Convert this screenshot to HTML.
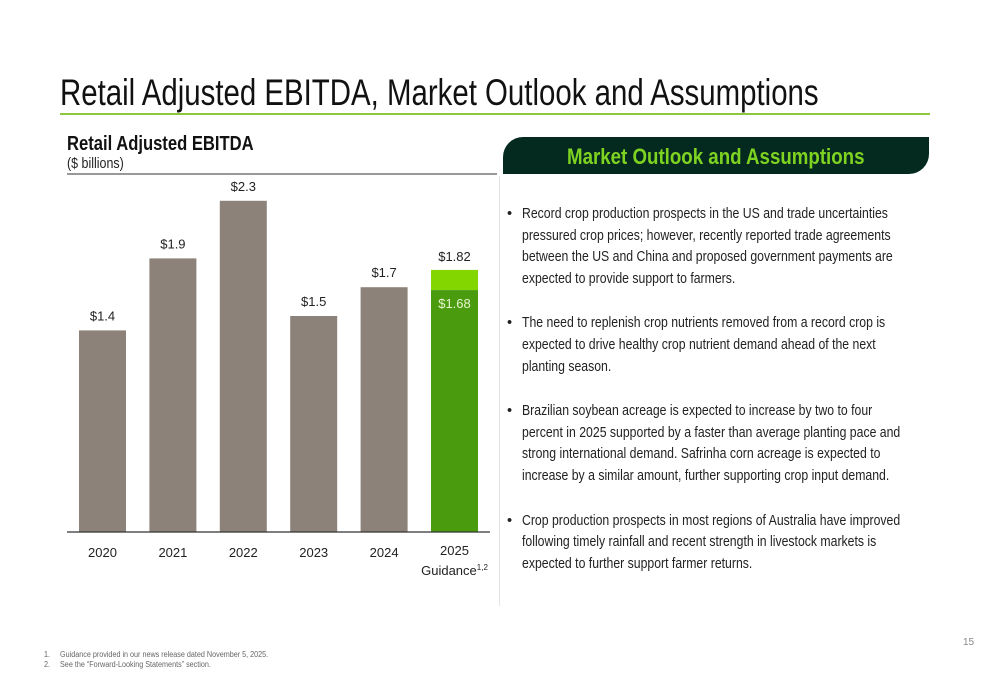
<!DOCTYPE html>
<html><head><meta charset="utf-8">
<style>
body{margin:0;width:1000px;height:685px;background:#fff;position:relative;overflow:hidden;font-family:"Liberation Sans",sans-serif;color:#222}
.abs{position:absolute}
.nar{transform-origin:0 0;white-space:nowrap}
#title{left:60px;top:72px;font-size:37px;color:#111;transform:scaleX(0.795)}
#rule{left:60px;top:113px;width:870px;height:2px;background:#8dc63f}
#ctitle{left:67px;top:133px;font-size:20px;font-weight:bold;color:#111;transform:scaleX(0.83)}
#csub{left:67px;top:155px;font-size:15px;color:#222;transform:scaleX(0.83)}
#box{left:503px;top:137px;width:426px;height:37px;background:#04291f;border-radius:20px 0 20px 0}
#boxt{left:567px;top:137px;line-height:39px;color:#7ed321;font-weight:bold;font-size:22px;transform:scaleX(0.85)}
#div{left:499px;top:176px;width:1px;height:430px;background:#e4e4e4}
ul{position:absolute;left:505px;top:204px;margin:0;padding:0;list-style:none;font-size:14.6px;line-height:21.6px;color:#222;white-space:nowrap}
li{position:relative;padding-left:17px;margin-bottom:23px}
li span{display:inline-block;transform:scaleX(0.84);transform-origin:0 0}
li:before{content:"•";position:absolute;left:2px}
.fn{left:44px;font-size:8px;color:#666;transform:scaleX(0.9)}
</style></head><body>
<div id="title" class="abs nar">Retail Adjusted EBITDA, Market Outlook and Assumptions</div>
<div id="rule" class="abs"></div>
<div id="ctitle" class="abs nar">Retail Adjusted EBITDA</div>
<div id="csub" class="abs nar">($ billions)</div>
<svg class="abs" style="left:0;top:0" width="500" height="600" id="chart">
<line x1="67" y1="174" x2="497" y2="174" stroke="#333" stroke-width="1"/>
</svg>
<div id="box" class="abs"></div>
<div id="boxt" class="abs nar">Market Outlook and Assumptions</div>
<div id="div" class="abs"></div>
<ul>
<li><span>Record crop production prospects in the US and trade uncertainties<br>pressured crop prices; however, recently reported trade agreements<br>between the US and China and proposed government payments are<br>expected to provide support to farmers.</span></li>
<li><span>The need to replenish crop nutrients removed from a record crop is<br>expected to drive healthy crop nutrient demand ahead of the next<br>planting season.</span></li>
<li><span>Brazilian soybean acreage is expected to increase by two to four<br>percent in 2025 supported by a faster than average planting pace and<br>strong international demand. Safrinha corn acreage is expected to<br>increase by a similar amount, further supporting crop input demand.</span></li>
<li><span>Crop production prospects in most regions of Australia have improved<br>following timely rainfall and recent strength in livestock markets is<br>expected to further support farmer returns.</span></li>
</ul>
<div class="abs" style="left:963px;top:637px;font-size:10px;color:#888">15</div>
<div class="abs fn nar" style="top:650px">1.&nbsp;&nbsp;&nbsp;&nbsp;&nbsp;Guidance provided in our news release dated November 5, 2025.</div>
<div class="abs fn nar" style="top:660px">2.&nbsp;&nbsp;&nbsp;&nbsp;&nbsp;See the “Forward-Looking Statements” section.</div>
<script>
const categories=["2020","2021","2022","2023","2024","2025"];
const values=[1.4,1.9,2.3,1.5,1.7,1.68];
const labels=["$1.4","$1.9","$2.3","$1.5","$1.7","$1.68"];
const guidanceHigh=1.82;
const guidanceLabel="$1.82";
const svg=document.getElementById('chart');
const NS="http://www.w3.org/2000/svg";
const baseY=532, scale=144, x0=79, step=70.4, bw=47;
const xs=i=>x0+i*step;
const ys=v=>baseY-v*scale;
const FS=13;
function mk(tag,attrs,text){const e=document.createElementNS(NS,tag);for(const k in attrs)e.setAttribute(k,attrs[k]);if(text!==undefined)e.textContent=text;svg.appendChild(e);return e;}
categories.forEach((c,i)=>{
  const last=i===categories.length-1;
  if(last){
    const hi=mk('rect',{x:xs(i),y:ys(guidanceHigh),width:bw,height:ys(values[i])-ys(guidanceHigh),fill:'#84d600'});
    
    
    const t=mk('text',{x:xs(i)+bw/2,y:ys(guidanceHigh)-9,'text-anchor':'middle','font-size':FS,fill:'#222','font-family':'Liberation Sans, sans-serif'},guidanceLabel);
    
    
  }
  const r=mk('rect',{x:xs(i),y:ys(values[i]),width:bw,height:baseY-ys(values[i]),fill:last?'#4a9c0e':'#8c8279'});
  
  
  const l=mk('text',{x:xs(i)+bw/2,y:last?ys(values[i])+18:ys(values[i])-10,'text-anchor':'middle','font-size':FS,fill:last?'#e8f5d0':'#222','font-family':'Liberation Sans, sans-serif'},labels[i]);
  
  
  const xl=mk('text',{x:xs(i)+bw/2,y:last?555:557,'text-anchor':'middle','font-size':FS,fill:'#222','font-family':'Liberation Sans, sans-serif'},c);
  
  
  if(last){
    const g=mk('text',{x:xs(i)+bw/2,y:575,'text-anchor':'middle','font-size':FS,fill:'#222','font-family':'Liberation Sans, sans-serif'},'Guidance');
    const s=document.createElementNS(NS,'tspan');s.setAttribute('font-size','8');s.setAttribute('dy','-5');s.textContent='1,2';g.appendChild(s);
    
    
  }
});
const ax=mk('line',{x1:67,y1:baseY,x2:490,y2:baseY,stroke:'#333','stroke-width':1.2});


</script>
</body></html>
